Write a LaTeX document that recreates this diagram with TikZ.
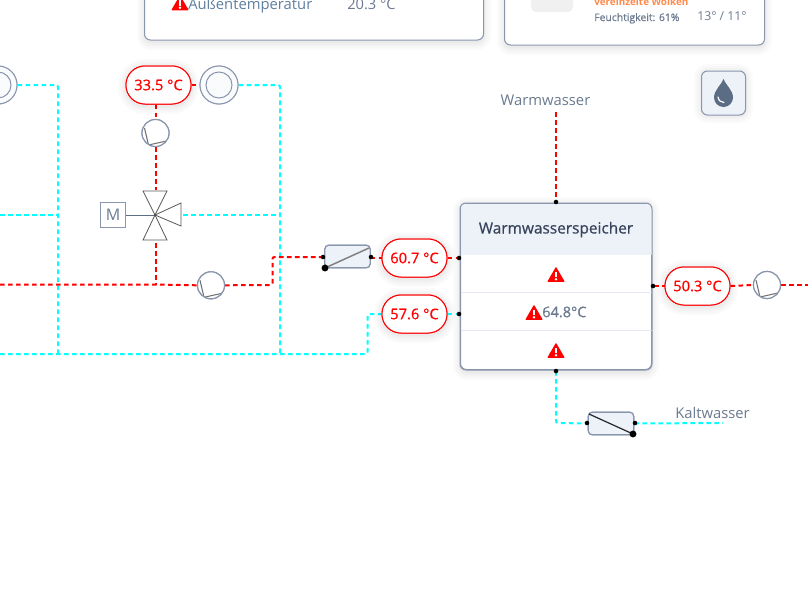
\documentclass[tikz,border=0pt]{standalone}
\usepackage{fontspec}
\setmainfont{Open Sans}
\newfontfamily\medfont{Open Sans}[FakeBold=0.6]
\usetikzlibrary{calc}
\definecolor{pipered}{HTML}{FF0000}
\definecolor{pipecyan}{HTML}{00FFFF}
\definecolor{edge}{HTML}{8A96AD}
\definecolor{panel}{HTML}{EDF1F8}
\definecolor{txtgray}{HTML}{6B7A90}
\definecolor{txtdark}{HTML}{36435A}
\definecolor{txtblue}{HTML}{5F7F9F}
\definecolor{divline}{HTML}{E4E9F1}
\definecolor{dropc}{HTML}{5B6C85}
\definecolor{wetterorange}{HTML}{FF8A4C}
\tikzset{
 redpipe/.style={draw=pipered,line width=1.5pt,dash pattern=on 3.4pt off 2.6pt},
 cyanpipe/.style={draw=pipecyan,line width=1.5pt,dash pattern=on 3.4pt off 2.6pt},
 pill/.style={draw=pipered,line width=0.75pt,fill=white,rounded corners=14.2pt,minimum width=48.75pt,minimum height=28.5pt,inner sep=0pt,text=pipered,font=\medfont\fontsize{11}{12}\selectfont},
 pump/.style={circle,draw=edge,line width=0.9pt,fill=white,minimum size=20.25pt,inner sep=0pt,
   path picture={\draw[gray!90!black,line width=0.8pt,shift={(path picture bounding box.center)}] (-11,-5)--(-7,12)--(11,8);}},
 ring/.style={circle,draw=edge,line width=0.75pt,fill=panel!30!white,minimum size=#1,inner sep=0pt},
 xch/.style={draw=edge,line width=0.9pt,fill=panel,rounded corners=3pt,minimum width=34pt,minimum height=17pt,inner sep=0pt},
 bigdot/.style={circle,fill=black,minimum size=5.2pt,inner sep=0pt},
 smalldot/.style={circle,fill=black,minimum size=3.4pt,inner sep=0pt},
 valvetri/.style={draw=black!65,line width=0.6pt,fill=white,line join=miter},
 card/.style={draw=edge,line width=0.75pt,fill=white,rounded corners=4.5pt},
 label/.style={text=txtgray,font=\fontsize{11.1}{13}\selectfont,inner sep=0pt},
 warn/.pic={
   \fill[pipered,rounded corners=0.5pt] (-8.8,7.3)--(0,-7.8)--(8.8,7.3)--cycle;
   \fill[white] (-1.3,-2.8) rectangle (1.3,2.6);
   \fill[white] (0,4.7) circle (1.4);
 }
}
\newcommand{\softshadow}[5]{%
  \foreach \w in {16,12,8,5,2}{
    \draw[black,opacity=0.016,line width=\w*0.75pt,rounded corners=#5] (#1,#2) rectangle (#3,#4);
  }}
\begin{document}
\begin{tikzpicture}[x=0.75pt,y=-0.75pt]
\useasboundingbox (0,0) rectangle (808,600);
\clip (0,0) rectangle (808,600);
\fill[white] (0,0) rectangle (808,600);

% top cards
\softshadow{145}{-20}{483}{42}{4.5pt}
\softshadow{505}{-20}{764}{47}{4.5pt}
\path[card] (144.5,-20) rectangle (483.5,40);
\path[card] (504.5,-20) rectangle (764.5,45);
\node[inner sep=0pt,anchor=base west,text=txtblue,font=\fontsize{11.1}{13}\selectfont] (aussen) at (188,9) {Außentemperatur};
\node[inner sep=0pt,anchor=base west,text=txtgray,font=\fontsize{11}{13}\selectfont] (aussenval) at (347,9) {20.3 °C};
\pic at (180,3) {warn};
\fill[black!6,rounded corners=4pt] (531,-12) rectangle (573,12);
\node[inner sep=0pt,anchor=base west,text=wetterorange,font=\bfseries\fontsize{7.4}{9}\selectfont] (wetter) at (594,5.5) {vereinzelte Wolken};
\node[inner sep=0pt,anchor=base west,text=txtgray,font=\medfont\fontsize{7.8}{9}\selectfont] (feucht) at (594,21) {Feuchtigkeit: 61\%};
\node[inner sep=0pt,anchor=base west,text=txtgray,font=\fontsize{9.2}{11}\selectfont] (temps) at (697,20) {13° / 11°};

% drop button
\softshadow{702}{72}{745}{115}{4.5pt}
\node[draw=edge,line width=0.75pt,fill=panel,rounded corners=4.5pt,minimum size=33pt,inner sep=0pt] (dropbtn) at (723.5,93) {};
\fill[dropc] (723.5,79) .. controls (722,84) and (714,90) .. (714,97.5) arc[start angle=180,end angle=360,radius=9.5*0.75pt] .. controls (733,90) and (725,84) .. (723.5,79) -- cycle;
\draw[white,line width=0.9pt,line cap=round] (718,97) .. controls (718.5,100.5) and (721,102.5) .. (724,102.5);

% coordinates
\coordinate (lefttop) at (58,85);
\coordinate (leftbot) at (58,354);
\coordinate (righttop) at (280,85);
\coordinate (rightbot) at (280,354);
\coordinate (edgeL1) at (0,215);
\coordinate (edgeL2) at (0,284.5);
\coordinate (edgeL3) at (0,354);
\coordinate (junc1) at (58,215);
\coordinate (junc2) at (280,215);
\coordinate (vtop) at (155.5,190);
\coordinate (vbot) at (155.5,243);
\coordinate (vright) at (183,215);
\coordinate (vcent) at (155,215);
\coordinate (vjoin) at (155.5,284.5);
\coordinate (bendA) at (272.5,285);
\coordinate (bendB) at (272.5,257);
\coordinate (bendC) at (367.5,354);
\coordinate (bendD) at (367.5,314);
\coordinate (bendE) at (556,423);
\coordinate (edgeR) at (808,285);
\coordinate (kaltend) at (723,423);
\coordinate (warmtop) at (556,112);

% nodes
\node[ring=28.5pt] (ringL) at (-2,85) {};
\node[ring=28.5pt] (ringR) at (219,85) {};
\node[pill] (t335) at (158.5,85) {33.5 °C};
\node[pill] (t607) at (414.5,258) {60.7 °C};
\node[pill] (t576) at (414.5,314) {57.6 °C};
\node[pill] (t503) at (697.5,286) {50.3 °C};
\node[pump] (pumpA) at (155.5,133) {};
\node[pump] (pumpB) at (211,285.3) {};
\node[pump] (pumpC) at (767,285) {};
\node[xch] (xchA) at (347.5,256.5) {};
\node[xch] (xchB) at (611,423.5) {};

% pipes
\draw[cyanpipe,rounded corners=1.5pt] (ringL.east) -- (lefttop) -- (leftbot);
\draw[cyanpipe,rounded corners=1.5pt] (ringR.east) -- (righttop) -- (rightbot);
\draw[cyanpipe] (edgeL1) -- (junc1);
\draw[cyanpipe] (vright) -- (junc2);
\draw[cyanpipe,rounded corners=1.5pt] (edgeL3) -- (bendC) -- (bendD) -- (t576.west);
\draw[redpipe] (t335.east) -- (ringR.west);
\draw[redpipe] (pumpA.north |- t335.south) -- (pumpA.north);
\draw[redpipe] (pumpA.south) -- (vtop);
\draw[redpipe] (vbot) -- (vjoin);
\draw[redpipe] (edgeL2) -- (vjoin) -- (pumpB.west);
\draw[redpipe,rounded corners=1.5pt] (pumpB.east) -- (bendA) -- (bendB) -- (xchA.west |- bendB);
\draw[redpipe] (xchA.east |- t607.west) -- (t607.west);
\draw[redpipe] (warmtop) -- (556,202);
\draw[redpipe] (pumpC.east) -- (edgeR);
\draw[redpipe] (t503.east) -- (pumpC.west);

% re-draw nodes above pipes
\node[ring=28.5pt] at (-2,85) {};
\node[ring=19.5pt] at (-2,85) {};
\node[ring=28.5pt] at (219,85) {};
\node[ring=19.5pt] (ringRi) at (219,85) {};
\softshadow{382}{240}{447}{279}{14pt}
\softshadow{382}{296}{447}{335}{14pt}
\softshadow{665}{268}{730}{307}{14pt}
\softshadow{126}{67}{191}{106}{14pt}
\node[pill] at (158.5,85) {33.5 °C};
\node[pill] at (414.5,258) {60.7 °C};
\node[pill] at (414.5,314) {57.6 °C};
\node[pill] at (697.5,286) {50.3 °C};
\node[pump] at (155.5,133) {};
\node[pump] at (211,285.3) {};
\node[pump] at (767,285) {};

% valve
\node[draw=edge,line width=0.75pt,fill=white,minimum size=18.5pt,inner sep=0pt,text=txtgray,font=\fontsize{12}{14}\selectfont] (motor) at (113,215) {M};
\draw[dropc,line width=0.6pt] (motor.east) -- (vcent);
\path[valvetri] (143,191) -- (167,191) -- (vcent) -- cycle;
\path[valvetri] (143,240) -- (167,240) -- (vcent) -- cycle;
\path[valvetri] (181,203) -- (181,226) -- (vcent) -- cycle;
\fill[black!70] (vcent) circle (1.2);

% exchangers
\node[xch] at (347.5,256.5) {};
\draw[black!50,line width=1.1pt] (325,268) -- (369,248);
\node[bigdot] (dA) at (325,268) {};
\node[smalldot] (dA1) at (323,257) {};
\node[smalldot] (dA2) at (371,257) {};
\draw[cyanpipe,rounded corners=1.5pt] (556,371) -- (bendE) -- (xchB.west);
\draw[cyanpipe] (xchB.east) -- (kaltend);
\node[xch] at (611,423.5) {};
\draw[black!85,line width=0.9pt] (589,414) -- (633,434);
\node[bigdot] (dB) at (633,434) {};
\node[smalldot] (dB1) at (587,423) {};
\node[smalldot] (dB2) at (635,423) {};

% storage
\softshadow{461}{205}{651}{372}{4.5pt}
\draw[redpipe] (t607.east) -- (460,258);
\draw[cyanpipe] (t576.east) -- (460,314);
\draw[redpipe] (654,286) -- (t503.west);
\node[draw=edge,line width=0.75pt,fill=white,rounded corners=4.5pt,minimum width=143.25pt,minimum height=124.5pt,inner sep=0pt] (store) at (556,286.5) {};
\begin{scope}
\clip[rounded corners=4.5pt] (store.north west) rectangle (store.south east);
\fill[panel] (460.5,203.5) rectangle (651.5,255);
\draw[divline,line width=0.75pt] (460.5,292.5) -- (651.5,292.5);
\draw[divline,line width=0.75pt] (460.5,330.5) -- (651.5,330.5);
\end{scope}
\draw[edge,line width=0.75pt,rounded corners=4.5pt] (store.north west) rectangle (store.south east);
\node[inner sep=0pt,text=txtdark,font=\medfont\fontsize{11.55}{13}\selectfont] (title) at (556,229.5) {Warmwasserspeicher};
\pic at (556,274.5) {warn};
\pic at (534,312.5) {warn};
\pic at (556,350.5) {warn};
\node[inner sep=0pt,anchor=west,text=txtgray,font=\medfont\fontsize{10.9}{12}\selectfont] (val) at (542,312) {64.8°C};
\node[smalldot] (s1) at (556,202) {};
\node[smalldot] (s2) at (459,258) {};
\node[smalldot] (s3) at (459,314) {};
\node[smalldot] (s4) at (653,286) {};
\node[smalldot] (s5) at (556,371) {};

% labels
\node[label] (warm) at (545.5,100) {Warmwasser};
\node[label] (kalt) at (712.5,413) {Kaltwasser};
\end{tikzpicture}
\end{document}
